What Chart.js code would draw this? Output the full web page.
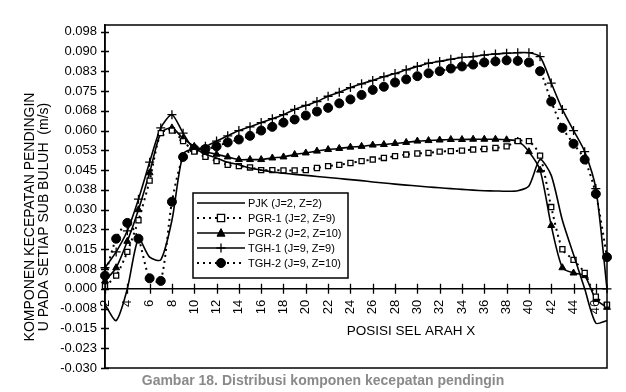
<!DOCTYPE html>
<html>
<head>
<meta charset="utf-8">
<script src="https://cdn.jsdelivr.net/npm/chart.js@4.4.1/dist/chart.umd.min.js"></script>
<style>
  html, body { margin: 0; padding: 0; background: #fff; }
  #wrap { width: 626px; height: 392px; position: relative; }
</style>
</head>
<body>
<div id="wrap"><canvas id="chart" width="626" height="392"></canvas></div>
<script>
// posisi sel arah X
const posisi = [2, 3, 4, 5, 6, 7, 8, 9, 10, 11, 12, 13, 14, 15, 16, 17, 18, 19, 20, 21, 22, 23, 24,
  25, 26, 27, 28, 29, 30, 31, 32, 33, 34, 35, 36, 37, 38, 39, 40, 41, 42, 43, 44, 45, 46, 47];

const pjk = [-0.006, -0.012, 0.000, 0.019, 0.012, 0.011, 0.026, 0.051, 0.053, 0.051, 0.0496, 0.048,
  0.047, 0.0458, 0.045, 0.0443, 0.0438, 0.0434, 0.043, 0.0426, 0.0422, 0.0418, 0.0414, 0.041, 0.0405,
  0.0401, 0.0397, 0.0393, 0.039, 0.0386, 0.0383, 0.038, 0.0377, 0.0374, 0.0372, 0.0371, 0.037, 0.0372,
  0.039, 0.049, 0.043, 0.026, 0.013, 0.000, -0.013, -0.012];

const pgr1 = [0.001, 0.005, 0.014, 0.026, 0.041, 0.059, 0.060, 0.056, 0.052, 0.050, 0.0484, 0.047,
  0.0465, 0.046, 0.045, 0.045, 0.0449, 0.0449, 0.045, 0.0458, 0.0465, 0.047, 0.0477, 0.0484, 0.049,
  0.0496, 0.0503, 0.0509, 0.0513, 0.0515, 0.052, 0.0522, 0.0524, 0.0528, 0.053, 0.0534, 0.054, 0.056,
  0.056, 0.0505, 0.031, 0.015, 0.011, 0.006, -0.003, -0.006];

const pgr2 = [0.003, 0.008, 0.018, 0.030, 0.044, 0.059, 0.061, 0.057, 0.054, 0.052, 0.051, 0.050,
  0.049, 0.049, 0.049, 0.0496, 0.050, 0.0509, 0.0515, 0.0522, 0.0528, 0.0532, 0.0537, 0.054, 0.0545,
  0.0547, 0.0551, 0.0555, 0.056, 0.0562, 0.0564, 0.0566, 0.0566, 0.0567, 0.0567, 0.0567, 0.0565, 0.056,
  0.052, 0.045, 0.024, 0.008, 0.006, 0.005, -0.004, -0.007];

const tgh1 = [0.008, 0.014, 0.022, 0.034, 0.048, 0.061, 0.066, 0.059, 0.053, 0.054, 0.056, 0.058,
  0.060, 0.0614, 0.063, 0.0645, 0.066, 0.068, 0.0695, 0.071, 0.073, 0.0745, 0.0763, 0.0777, 0.079,
  0.0804, 0.0816, 0.083, 0.0843, 0.0855, 0.0862, 0.087, 0.0877, 0.088, 0.0886, 0.089, 0.0893, 0.0895,
  0.0895, 0.088, 0.078, 0.068, 0.060, 0.052, 0.038, 0.000];

const tgh2 = [0.005, 0.019, 0.025, 0.019, 0.004, 0.003, 0.033, 0.050, 0.053, 0.053, 0.054, 0.0555,
  0.0566, 0.058, 0.060, 0.0614, 0.063, 0.0642, 0.0657, 0.0672, 0.0686, 0.0703, 0.0718, 0.0735, 0.0754,
  0.0766, 0.0782, 0.0794, 0.0806, 0.0817, 0.0825, 0.0835, 0.0843, 0.085, 0.0858, 0.0862, 0.0866, 0.0864,
  0.0858, 0.0825, 0.071, 0.061, 0.055, 0.049, 0.036, 0.012];

const seriesNames = ['PJK (J=2, Z=2)', 'PGR-1 (J=2, Z=9)', 'PGR-2 (J=2, Z=10)', 'TGH-1 (J=9, Z=9)', 'TGH-2 (J=9, Z=10)'];
const yTitle = ['KOMPONEN KECEPATAN PENDINGIN', 'U PADA SETIAP SUB BULUH  (m/s)'];
const xTitle = 'POSISI SEL ARAH X';
const caption = 'Gambar 18. Distribusi komponen kecepatan pendingin';

const FONT = '"Liberation Sans", Arial, sans-serif';

function pts(vals) {
  return vals.map((v, i) => ({ x: posisi[i], y: v }));
}

function fmtTick(v) {
  const s = v < 0 ? -1 : 1;
  const r = Math.round(Math.abs(v) * 1000 + 1e-6) / 1000;
  return (r === 0 ? 0 : s * r).toFixed(3);
}

const datasets = [
  { label: seriesNames[0], data: pts(pjk), borderColor: '#000', borderWidth: 1.6,
    pointRadius: 0, tension: 0.25, clip: false },
  { label: seriesNames[1], data: pts(pgr1), borderColor: '#000', borderWidth: 2, borderDash: [2, 4],
    pointStyle: 'rect', pointRadius: 3.6, pointBackgroundColor: '#fff', pointBorderColor: '#000',
    pointBorderWidth: 1.3, tension: 0.25, clip: false },
  { label: seriesNames[2], data: pts(pgr2), borderColor: '#000', borderWidth: 1.6,
    pointStyle: 'triangle', pointRadius: 4, pointBackgroundColor: '#000', pointBorderColor: '#000',
    pointBorderWidth: 1, tension: 0.25, clip: false },
  { label: seriesNames[3], data: pts(tgh1), borderColor: '#000', borderWidth: 1.6,
    pointStyle: 'cross', pointRadius: 4.5, pointBackgroundColor: '#000', pointBorderColor: '#000',
    pointBorderWidth: 1.3, tension: 0.25, clip: false },
  { label: seriesNames[4], data: pts(tgh2), borderColor: '#000', borderWidth: 2, borderDash: [2, 4],
    pointStyle: 'circle', pointRadius: 4.5, pointBackgroundColor: '#000', pointBorderColor: '#000',
    pointBorderWidth: 1, tension: 0.25, clip: false }
];

function drawMarker(ctx, ds, x, y) {
  const r = ds.pointRadius || 0;
  if (!r) return;
  ctx.save();
  ctx.setLineDash([]);
  ctx.lineWidth = ds.pointBorderWidth;
  ctx.strokeStyle = ds.pointBorderColor;
  ctx.fillStyle = ds.pointBackgroundColor;
  ctx.beginPath();
  if (ds.pointStyle === 'rect') {
    ctx.rect(x - r, y - r, r * 2, r * 2);
    ctx.fill(); ctx.stroke();
  } else if (ds.pointStyle === 'triangle') {
    ctx.moveTo(x, y - r * 1.1);
    ctx.lineTo(x + r, y + r * 0.8);
    ctx.lineTo(x - r, y + r * 0.8);
    ctx.closePath();
    ctx.fill(); ctx.stroke();
  } else if (ds.pointStyle === 'cross') {
    ctx.moveTo(x - r, y); ctx.lineTo(x + r, y);
    ctx.moveTo(x, y - r); ctx.lineTo(x, y + r);
    ctx.stroke();
  } else {
    ctx.arc(x, y, r, 0, Math.PI * 2);
    ctx.fill(); ctx.stroke();
  }
  ctx.restore();
}

const decorPlugin = {
  id: 'decor',
  afterDraw(chart) {
    const ctx = chart.ctx;
    const area = chart.chartArea;
    const xs = chart.scales.x;
    const ys = chart.scales.y;
    ctx.save();

    // frame
    ctx.strokeStyle = '#000';
    ctx.lineWidth = 1.5;
    ctx.strokeRect(area.left, area.top, area.right - area.left, area.bottom - area.top);

    // crossing tick marks
    ctx.lineWidth = 1.3;
    ctx.beginPath();
    ys.ticks.forEach(t => {
      const py = Math.round(ys.getPixelForValue(t.value)) + 0.5;
      ctx.moveTo(area.left - 4, py);
      ctx.lineTo(area.left + 4, py);
    });
    const y0 = ys.getPixelForValue(0);
    xs.ticks.forEach(t => {
      const px = Math.round(xs.getPixelForValue(t.value)) + 0.5;
      ctx.moveTo(px, y0 - 5);
      ctx.lineTo(px, y0 + 5);
    });
    ctx.stroke();

    // y title
    ctx.fillStyle = '#000';
    ctx.font = '14px ' + FONT;
    ctx.textAlign = 'center';
    ctx.textBaseline = 'middle';
    [30, 44].forEach((tx, i) => {
      ctx.save();
      ctx.translate(tx, 217);
      ctx.rotate(-Math.PI / 2);
      ctx.fillText(yTitle[i], 0, 0);
      ctx.restore();
    });

    // x title
    ctx.font = '13.5px ' + FONT;
    ctx.fillText(xTitle, 411, 331);

    // caption
    ctx.fillStyle = '#8a8a8a';
    ctx.font = 'bold 14px ' + FONT;
    ctx.fillText(caption, 323, 381);

    // legend
    const bx = 193, by = 193, bw = 155, bh = 85;
    ctx.fillStyle = '#fff';
    ctx.fillRect(bx, by, bw, bh);
    ctx.strokeStyle = '#000';
    ctx.lineWidth = 1.5;
    ctx.strokeRect(bx, by, bw, bh);
    ctx.font = '11px ' + FONT;
    ctx.textAlign = 'left';
    chart.data.datasets.forEach((ds, i) => {
      const ry = by + 10 + i * 15;
      ctx.save();
      ctx.strokeStyle = ds.borderColor;
      ctx.lineWidth = ds.borderWidth;
      ctx.setLineDash(ds.borderDash || []);
      ctx.beginPath();
      ctx.moveTo(bx + 4, ry);
      ctx.lineTo(bx + 52, ry);
      ctx.stroke();
      ctx.restore();
      drawMarker(ctx, ds, bx + 28, ry);
      ctx.fillStyle = '#000';
      ctx.fillText(ds.label, bx + 55, ry + 0.5);
    });
    ctx.restore();
  }
};

new Chart(document.getElementById('chart'), {
  type: 'line',
  data: { datasets: datasets },
  options: {
    responsive: false,
    animation: false,
    devicePixelRatio: 1,
    layout: { padding: { left: 0, top: 25, right: 19, bottom: 24 } },
    plugins: { legend: { display: false }, tooltip: { enabled: false } },
    scales: {
      x: {
        type: 'linear', min: 2, max: 47, position: { y: 0 },
        ticks: { stepSize: 2, includeBounds: false, autoSkip: false, minRotation: 90, maxRotation: 90,
          padding: 11, color: '#000', font: { family: FONT, size: 13 } },
        grid: { display: false, drawTicks: false },
        border: { display: true, color: '#000', width: 1.5 }
      },
      y: {
        type: 'linear', min: -0.03, max: 0.1,
        ticks: { stepSize: 0.0075, includeBounds: false, autoSkip: false, padding: 8,
          color: '#000', font: { family: FONT, size: 13 }, callback: v => fmtTick(v) },
        grid: { display: false, drawTicks: false },
        border: { display: true, color: '#000', width: 1.5 },
        afterFit: s => { s.width = 105; }
      }
    }
  },
  plugins: [decorPlugin]
});
</script>
</body>
</html>
